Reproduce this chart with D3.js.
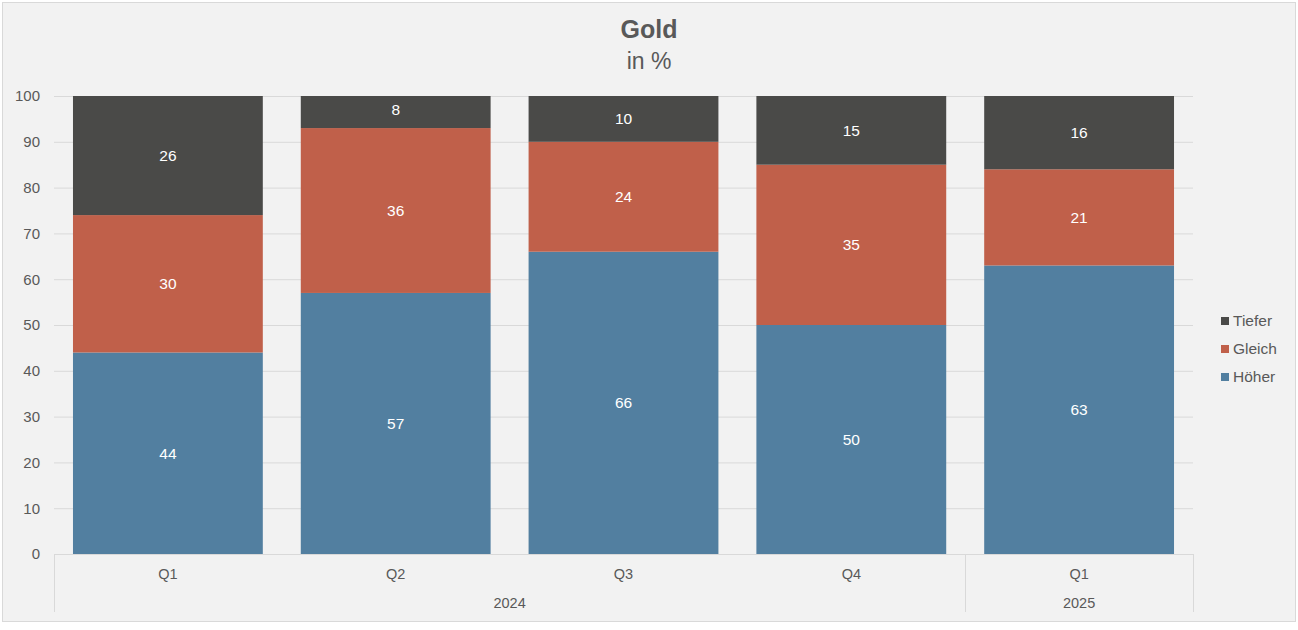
<!DOCTYPE html>
<html><head><meta charset="utf-8">
<script src="https://cdn.jsdelivr.net/npm/d3@7"></script>
<style>
html,body{margin:0;padding:0;background:#fff;}
svg{display:block;font-family:"Liberation Sans",Arial,sans-serif;}
</style></head>
<body><svg id="c" width="1298" height="630"></svg>
<script>
const quarters = ["Q1","Q2","Q3","Q4","Q1"];
const years = ["2024","2024","2024","2024","2025"];
const hoeher = [44,57,66,50,63];
const gleich = [30,36,24,35,21];
const tiefer = [26,8,10,15,16];
const seriesNames = ["Höher","Gleich","Tiefer"];
const colors = ["#527fa0","#c0604a","#4a4a48"];
const yTicks = [0,10,20,30,40,50,60,70,80,90,100];

(function(){
const svg = d3.select("#c");
svg.append("rect").attr("x",2.5).attr("y",2.5).attr("width",1293).attr("height",619)
  .attr("fill","#f2f2f2").attr("stroke","#d9d9d9").attr("stroke-width",1);

const pl=54, pr=1193, pt=96, pb=554;
const idx = d3.range(quarters.length);
const x = d3.scaleBand().domain(idx).range([pl,pr]).paddingInner(0.1667).paddingOuter(0.0833);
const y = d3.scaleLinear().domain([0,100]).range([pb,pt]);

svg.append("defs").append("clipPath").attr("id","plotclip")
  .append("rect").attr("x",pl).attr("y",pt).attr("width",pr-pl).attr("height",pb-pt);

// grid
svg.append("g").selectAll("line").data(yTicks.filter(d=>d>0)).join("line")
  .attr("x1",pl).attr("x2",pr).attr("y1",d=>y(d)+0.5).attr("y2",d=>y(d)+0.5)
  .attr("stroke","#d9d9d9").attr("stroke-width",1);

// y axis labels
const yAxis = d3.axisLeft(y).tickValues(yTicks).tickSize(0).tickPadding(0);
const ya = svg.append("g").attr("transform",`translate(${40},0)`).call(yAxis);
ya.select(".domain").remove();
ya.selectAll("text").attr("fill","#595959").style("font-size","15px").style("font-family","Liberation Sans, Arial, sans-serif");

// stacks
const rows = idx.map(i=>({i, "Höher":hoeher[i], "Gleich":gleich[i], "Tiefer":tiefer[i]}));
const stack = d3.stack().keys(seriesNames)(rows);
const g = svg.append("g").attr("clip-path","url(#plotclip)");
const gl = svg.append("g");
stack.forEach((s,k)=>{
  g.selectAll(null).data(s).join("rect")
    .attr("x",d=>x(d.data.i)).attr("width",x.bandwidth())
    .attr("y",d=>y(d[1])).attr("height",d=>y(d[0])-y(d[1]))
    .attr("fill",colors[k]);
  gl.selectAll(null).data(s).join("text")
    .attr("x",d=>x(d.data.i)+x.bandwidth()/2)
    .attr("y",d=>(y(d[0])+y(d[1]))/2).attr("dy","0.35em")
    .attr("text-anchor","middle").attr("fill","#ffffff").style("font-size","15.5px")
    .text(d=>d[1]-d[0]);
});

// category axis
const ax = svg.append("g").attr("stroke","#d9d9d9").attr("stroke-width",1);
ax.append("line").attr("x1",pl).attr("x2",pr).attr("y1",pb+0.5).attr("y2",pb+0.5);
const groups = [];
idx.forEach(i=>{ if(!groups.length || groups[groups.length-1].year!==years[i]) groups.push({year:years[i],start:i,end:i}); else groups[groups.length-1].end=i; });
const step = x.step();
const bStart = i => x(i) - (x.paddingInner()*step)/2;
const bEnd = i => x(i) + x.bandwidth() + (x.paddingInner()*step)/2;
const seps = [pl, ...groups.slice(1).map(gr=>bStart(gr.start)), pr];
ax.selectAll(null).data(seps).join("line")
  .attr("x1",d=>Math.round(d)+0.5).attr("x2",d=>Math.round(d)+0.5)
  .attr("y1",pb).attr("y2",612);

svg.append("g").selectAll("text").data(idx).join("text")
  .attr("x",i=>x(i)+x.bandwidth()/2).attr("y",574).attr("dy","0.35em")
  .attr("text-anchor","middle").attr("fill","#595959").style("font-size","14.5px")
  .text(i=>quarters[i]);
svg.append("g").selectAll("text").data(groups).join("text")
  .attr("x",gr=>{const a=gr.start===0?pl:bStart(gr.start); const b=gr.end===idx.length-1?pr:bEnd(gr.end); return (a+b)/2;})
  .attr("y",603).attr("dy","0.35em")
  .attr("text-anchor","middle").attr("fill","#595959").style("font-size","14.5px")
  .text(gr=>gr.year);

// title
svg.append("text").attr("x",649).attr("y",38).attr("text-anchor","middle")
  .attr("fill","#595959").style("font-size","25px").style("font-weight","bold").text("Gold");
svg.append("text").attr("x",649).attr("y",69).attr("text-anchor","middle")
  .attr("fill","#595959").style("font-size","23px").text("in %");

// legend
const legItems = [["Tiefer",colors[2]],["Gleich",colors[1]],["Höher",colors[0]]];
const lg = svg.append("g");
legItems.forEach((it,j)=>{
  const cy = 321 + j*28;
  lg.append("rect").attr("x",1221).attr("y",cy-4).attr("width",8).attr("height",8).attr("fill",it[1]);
  lg.append("text").attr("x",1233).attr("y",cy).attr("dy","0.35em")
    .attr("fill","#595959").style("font-size","15.5px").text(it[0]);
});
})();
</script></body></html>
